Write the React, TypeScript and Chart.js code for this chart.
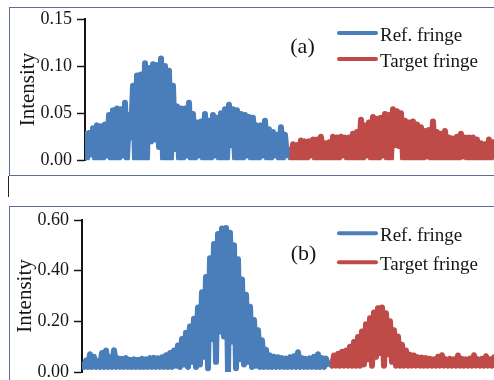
import React, { useEffect, useRef } from "react";
import { Chart, registerables } from "chart.js";

Chart.register(...registerables);

const SERIES_NAMES = ["Ref. fringe", "Target fringe"];
const PANEL_LABELS = ["(a)", "(b)"];
const Y_TICKS_A = [0, 0.05, 0.1, 0.15];
const Y_TICKS_B = [0, 0.2, 0.4, 0.6];

// Panel (a): peaks (highs) and troughs (lows) of the noisy fringe signal
const refHighA = [
  0.031, 0.029, 0.034, 0.037, 0.036, 0.038, 0.048, 0.053, 0.055, 0.054,
  0.061, 0.048, 0.079, 0.090, 0.091, 0.103, 0.098, 0.102, 0.101, 0.108,
  0.100, 0.095, 0.079, 0.057, 0.055, 0.055, 0.061, 0.049, 0.040, 0.041,
  0.049, 0.042, 0.048, 0.045, 0.050, 0.054, 0.059, 0.054, 0.053, 0.049,
  0.048, 0.046, 0.045, 0.037, 0.037, 0.042, 0.033, 0.030, 0.027, 0.035,
  0.027,
];
const refLowA = [
  0.002, 0.006, 0.002, 0.002, 0.002, 0.005, 0.002, 0.002, 0.002, 0.005,
  0.002, 0.024, 0.002, 0.002, 0.002, 0.002, 0.020, 0.022, 0.014, 0.002,
  0.002, 0.002, 0.012, 0.002, 0.002, 0.005, 0.002, 0.002, 0.005, 0.002,
  0.002, 0.002, 0.005, 0.002, 0.002, 0.002, 0.016, 0.002, 0.002, 0.002,
  0.005, 0.002, 0.002, 0.002, 0.005, 0.002, 0.002, 0.005, 0.002, 0.002,
  0.002,
];
const tgtHighA = [
  0.014, 0.017, 0.016, 0.021, 0.020, 0.020, 0.022, 0.022, 0.025, 0.018,
  0.019, 0.025, 0.024, 0.025, 0.024, 0.024, 0.028, 0.030, 0.043, 0.037,
  0.040, 0.046, 0.044, 0.045, 0.049, 0.048, 0.054, 0.052, 0.050, 0.042,
  0.040, 0.041, 0.038, 0.035, 0.031, 0.032, 0.041, 0.030, 0.028, 0.031,
  0.024, 0.023, 0.025, 0.028, 0.024, 0.024, 0.024, 0.022, 0.018, 0.017,
  0.022, 0.019,
];
const tgtLowA = [
  0.002, 0.002, 0.002, 0.002, 0.002, 0.005, 0.002, 0.002, 0.002, 0.002,
  0.002, 0.002, 0.002, 0.005, 0.002, 0.002, 0.002, 0.002, 0.002, 0.005,
  0.002, 0.002, 0.002, 0.005, 0.002, 0.002, 0.016, 0.015, 0.002, 0.002,
  0.002, 0.002, 0.002, 0.002, 0.004, 0.002, 0.002, 0.002, 0.002, 0.002,
  0.002, 0.002, 0.002, 0.004, 0.002, 0.002, 0.002, 0.002, 0.002, 0.002,
  0.002, 0.002,
];

// Panel (b)
const refHighB = [
  0.040, 0.045, 0.070, 0.060, 0.042, 0.075, 0.085, 0.058, 0.086, 0.054,
  0.052, 0.055, 0.048, 0.050, 0.048, 0.052, 0.050, 0.055, 0.056, 0.054,
  0.058, 0.066, 0.075, 0.085, 0.105, 0.130, 0.155, 0.180, 0.210, 0.255,
  0.315, 0.375, 0.449, 0.505, 0.545, 0.566, 0.568, 0.550, 0.500, 0.445,
  0.365, 0.305, 0.258, 0.205, 0.165, 0.125, 0.088, 0.065, 0.060, 0.058,
  0.055, 0.053, 0.058, 0.062, 0.078, 0.055, 0.052, 0.054, 0.060, 0.070,
  0.055, 0.053,
];
const refLowB = [
  0.020, 0.020, 0.020, 0.020, 0.020, 0.020, 0.020, 0.020, 0.020, 0.020,
  0.020, 0.020, 0.020, 0.020, 0.020, 0.020, 0.020, 0.020, 0.020, 0.020,
  0.020, 0.020, 0.020, 0.025, 0.020, 0.030, 0.020, 0.040, 0.020, 0.030,
  0.060, 0.015, 0.130, 0.040, 0.160, 0.140, 0.000, 0.120, 0.015, 0.050,
  0.030, 0.040, 0.020, 0.025, 0.020, 0.020, 0.020, 0.020, 0.020, 0.020,
  0.020, 0.020, 0.020, 0.020, 0.020, 0.020, 0.020, 0.020, 0.020, 0.020,
  0.020, 0.020,
];
const tgtHighB = [
  0.045, 0.065, 0.072, 0.080, 0.085, 0.100, 0.118, 0.138, 0.160, 0.188,
  0.212, 0.235, 0.252, 0.255, 0.232, 0.200, 0.165, 0.140, 0.108, 0.085,
  0.068, 0.065, 0.058, 0.057, 0.055, 0.052, 0.050, 0.060, 0.066, 0.050,
  0.052, 0.050, 0.065, 0.052, 0.050, 0.053, 0.066, 0.050, 0.052, 0.062,
  0.050, 0.058,
];
const tgtLowB = [
  0.025, 0.025, 0.025, 0.025, 0.025, 0.025, 0.025, 0.025, 0.030, 0.050,
  0.025, 0.060, 0.075, 0.025, 0.070, 0.040, 0.025, 0.025, 0.025, 0.025,
  0.025, 0.025, 0.025, 0.025, 0.025, 0.025, 0.025, 0.025, 0.025, 0.025,
  0.025, 0.025, 0.025, 0.025, 0.025, 0.025, 0.025, 0.025, 0.025, 0.025,
  0.025, 0.025,
];

const BLUE = "#4a7ebb";
const RED = "#bf4b48";
const INK = "#151515";
const FAMILY = "'Liberation Serif', 'Times New Roman', serif";

function interleave(h: number[], l: number[]) {
  const out: number[] = [];
  for (let i = 0; i < h.length; i++) {
    out.push(h[i], l[i]);
  }
  return out;
}

const decorPlugin = {
  id: "panelDecor",
  afterDraw(chart: any, _args: any, opts: any) {
    const ctx = chart.ctx as CanvasRenderingContext2D;
    const X = (x: number) => x - opts.ox;
    const Y = (y: number) => y - opts.oy;
    ctx.save();
    ctx.fillStyle = INK;
    ctx.textBaseline = "alphabetic";
    ctx.textAlign = "center";
    ctx.font = `22px ${FAMILY}`;
    ctx.fillText(opts.label, X(opts.labelX), Y(opts.labelY));
    chart.data.datasets.forEach((ds: any, i: number) => {
      const it = opts.items[i];
      ctx.strokeStyle = ds.borderColor;
      ctx.lineWidth = 4;
      ctx.lineCap = "round";
      ctx.beginPath();
      ctx.moveTo(X(339), Y(it.lineY));
      ctx.lineTo(X(376), Y(it.lineY));
      ctx.stroke();
      ctx.textAlign = "left";
      ctx.font = `19px ${FAMILY}`;
      ctx.fillStyle = INK;
      ctx.fillText(ds.label, X(380), Y(it.textY));
    });
    ctx.restore();
  },
};

function makeConfig(p: any) {
  const ref = interleave(p.refHigh, p.refLow);
  const tgt = interleave(p.tgtHigh, p.tgtLow);
  const refData = ref.map((y, i) => ({ x: i, y }));
  const tgtData = tgt.map((y, i) => ({ x: ref.length + i, y }));
  const n = ref.length + tgt.length;
  const ds = (label: string, data: any[], color: string) => ({
    label,
    data,
    borderColor: color,
    backgroundColor: color,
    borderWidth: 6,
    pointRadius: 0,
    tension: 0,
    borderJoinStyle: "round" as const,
    fill: false,
  });
  return {
    type: "line" as const,
    data: {
      datasets: [ds(SERIES_NAMES[0], refData, BLUE), ds(SERIES_NAMES[1], tgtData, RED)],
    },
    options: {
      animation: false as const,
      responsive: false,
      maintainAspectRatio: false,
      events: [],
      layout: { padding: { top: p.padTop, bottom: p.padBottom, left: 0, right: 0 } },
      plugins: {
        legend: { display: false },
        tooltip: { enabled: false },
        panelDecor: p.decor,
      },
      scales: {
        x: { type: "linear" as const, display: false, min: 0, max: n - 1 },
        y: {
          min: p.ticks[0],
          max: p.ticks[p.ticks.length - 1],
          afterBuildTicks: (s: any) => {
            s.ticks = p.ticks.map((v: number) => ({ value: v }));
          },
          afterFit: (s: any) => {
            s.width = 85;
          },
          ticks: {
            callback: (v: any) => Number(v).toFixed(2),
            font: { family: FAMILY, size: 18 },
            color: INK,
            padding: 5,
          },
          grid: {
            drawOnChartArea: false,
            drawTicks: true,
            tickLength: 8,
            tickColor: INK,
            tickWidth: 1.5,
            color: INK,
          },
          border: { display: true, color: INK, width: 2 },
          title: {
            display: true,
            text: "Intensity",
            color: INK,
            font: { family: FAMILY, size: 21, lineHeight: 1.2 },
            padding: { top: 16, bottom: 0 },
          },
        },
      },
    },
    plugins: [decorPlugin],
  };
}

const panelA = {
  refHigh: refHighA,
  refLow: refLowA,
  tgtHigh: tgtHighA,
  tgtLow: tgtLowA,
  ticks: Y_TICKS_A,
  padTop: 19,
  padBottom: 12,
  decor: {
    ox: 0,
    oy: 0,
    label: PANEL_LABELS[0],
    labelX: 302.5,
    labelY: 52.7,
    items: [
      { lineY: 33, textY: 40.7 },
      { lineY: 59, textY: 67.3 },
    ],
  },
};

const panelB = {
  refHigh: refHighB,
  refLow: refLowB,
  tgtHigh: tgtHighB,
  tgtLow: tgtLowB,
  ticks: Y_TICKS_B,
  padTop: 20,
  padBottom: 18,
  decor: {
    ox: -3,
    oy: 200,
    label: PANEL_LABELS[1],
    labelX: 303.5,
    labelY: 259.5,
    items: [
      { lineY: 233.3, textY: 241 },
      { lineY: 262.3, textY: 270 },
    ],
  },
};

export default function App() {
  const canvasA = useRef<HTMLCanvasElement>(null);
  const canvasB = useRef<HTMLCanvasElement>(null);

  useEffect(() => {
    const a = new Chart(canvasA.current as HTMLCanvasElement, makeConfig(panelA) as any);
    const b = new Chart(canvasB.current as HTMLCanvasElement, makeConfig(panelB) as any);
    return () => {
      a.destroy();
      b.destroy();
    };
  }, []);

  return (
    <div
      style={{
        position: "fixed",
        left: 0,
        top: 0,
        width: 494,
        height: 380,
        overflow: "hidden",
        background: "#ffffff",
      }}
    >
      <div
        style={{
          position: "absolute",
          left: 9,
          top: 7,
          width: 495,
          height: 169,
          border: "1px solid #5b6c9e",
          boxSizing: "border-box",
        }}
      />
      <div style={{ position: "absolute", left: 8, top: 176, width: 1, height: 21, background: "#222" }} />
      <div
        style={{
          position: "absolute",
          left: 9,
          top: 206,
          width: 495,
          height: 200,
          border: "1px solid #5b6c9e",
          boxSizing: "border-box",
        }}
      />
      <canvas
        ref={canvasA}
        width={495}
        height={176}
        style={{ position: "absolute", left: 0, top: 0, width: 495, height: 176 }}
      />
      <canvas
        ref={canvasB}
        width={499}
        height={190}
        style={{ position: "absolute", left: -3, top: 200, width: 499, height: 190 }}
      />
    </div>
  );
}
